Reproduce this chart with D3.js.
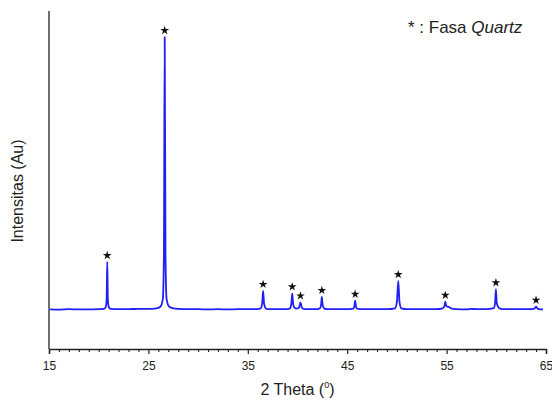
<!DOCTYPE html>
<html>
<head>
<meta charset="utf-8">
<script src="https://cdn.jsdelivr.net/npm/d3@7"></script>
<style>
  html, body { margin: 0; padding: 0; background: #fff; }
  svg { display: block; font-family: "Liberation Sans", Arial, sans-serif; }
</style>
</head>
<body>
<svg id="chart" width="552" height="406"></svg>
<script>
// ---- data ----
const theta = [15.1,16,17,18,19,20,20.5,20.7,20.8,20.86,20.92,21.02,21.2,22,23,24,25,25.8,26.2,26.45,26.56,26.64,26.72,26.83,27.1,27.5,28,29,30,31,32,33,34,35,36,36.3,36.45,36.54,36.63,36.8,37,38,39,39.25,39.38,39.47,39.56,39.7,39.9,40.15,40.3,40.45,40.6,41,42,42.25,42.37,42.45,42.53,42.7,43,44,45,45.6,45.72,45.8,45.88,46,46.5,47,48,49,49.8,50.0,50.14,50.26,50.45,51,52,53,54,54.6,54.78,54.87,54.97,55.1,55.3,55.5,56,57,57.5,58,59,59.75,59.88,59.96,60.04,60.15,60.3,60.6,61,62,63,63.8,63.92,64.0,64.1,64.3,64.7];
const intensity = [2,1,3,2,2,3,4,10,40,176,40,10,4,3,3,4,4,6,12,40,200,1000,200,40,12,6,4,3,3,2,3,2,3,3,3,6,25,70,25,6,3,3,3,6,22,61,22,8,5,8,28,8,4,3,3,6,18,48,18,5,3,3,3,5,13,34,13,5,3,3,3,3,6,30,106,30,6,3,3,3,3,6,14,30,14,12,10,5,3,2,4,3,3,7,28,76,28,14,6,3,3,3,3,4,8,12,7,3,2];
const peakTheta = [20.86,26.64,36.54,39.47,40.3,42.45,45.8,50.14,54.87,59.96,64.0];
const peakIntensity = [176,1000,70,61,28,48,34,106,30,76,12];
const xMajorTicks = [15,25,35,45,55,65];
const xMinorTicks = d3.range(16,65).filter(v => (v - 15) % 10 !== 0);
const xDomain = [15,65];
const yDomain = [-143,1095];

// ---- layout ----
const svg = d3.select("#chart");
const mLeft = 49, mRight = 546, mTop = 11, mBottom = 349;
const x = d3.scaleLinear().domain(xDomain).range([mLeft, mRight]);
const y = d3.scaleLinear().domain(yDomain).range([mBottom, mTop]);

// y axis line (no ticks)
svg.append("line")
  .attr("x1", mLeft).attr("x2", mLeft).attr("y1", mTop).attr("y2", mBottom)
  .attr("stroke", "#333").attr("stroke-width", 1.4);

// x axis major
const gx = svg.append("g").attr("transform", `translate(0,${mBottom})`)
  .call(d3.axisBottom(x).tickValues(xMajorTicks).tickSize(5).tickPadding(7).tickFormat(d3.format("d")));
gx.select(".domain").attr("stroke", "#222").attr("stroke-width", 1.4);
gx.selectAll(".tick line").attr("stroke", "#222").attr("stroke-width", 1.2);
gx.selectAll(".tick text").attr("font-size", 12).attr("fill", "#222")
  .attr("font-family", "Liberation Sans, Arial, sans-serif");

// x axis minor
const gm = svg.append("g").attr("transform", `translate(0,${mBottom})`)
  .call(d3.axisBottom(x).tickValues(xMinorTicks).tickSize(3).tickFormat(""));
gm.select(".domain").remove();
gm.selectAll(".tick line").attr("stroke", "#222").attr("stroke-width", 1.1);

// pattern line
const line = d3.line()
  .x((d, i) => x(theta[i]))
  .y((d, i) => y(intensity[i]))
  .curve(d3.curveMonotoneX);
svg.append("path")
  .attr("d", line(theta))
  .attr("fill", "none")
  .attr("stroke", "#1f1ff5")
  .attr("stroke-width", 1.8)
  .attr("stroke-linejoin", "round");

// peak markers
svg.append("g").selectAll("path")
  .data(peakTheta)
  .join("path")
  .attr("d", d3.symbol(d3.symbolStar, 24))
  .attr("transform", (d, i) => `translate(${x(d)},${y(peakIntensity[i]) - 6.5})`)
  .attr("fill", "#111");

// axis titles
const xt = svg.append("text")
  .attr("x", (mLeft + mRight) / 2).attr("y", 395)
  .attr("text-anchor", "middle").attr("font-size", 16).attr("fill", "#222");
xt.append("tspan").text("2 Theta (");
xt.append("tspan").attr("font-size", 9).attr("dy", -7).text("0");
xt.append("tspan").attr("dy", 7).text(")");

svg.append("text")
  .attr("transform", "translate(23,191) rotate(-90)")
  .attr("text-anchor", "middle").attr("font-size", 16).attr("fill", "#222")
  .text("Intensitas (Au)");

// legend note
const lg = svg.append("text")
  .attr("x", 408).attr("y", 33).attr("font-size", 17).attr("fill", "#222");
lg.append("tspan").text("* : Fasa ");
lg.append("tspan").attr("font-style", "italic").text("Quartz");
</script>
</body>
</html>
